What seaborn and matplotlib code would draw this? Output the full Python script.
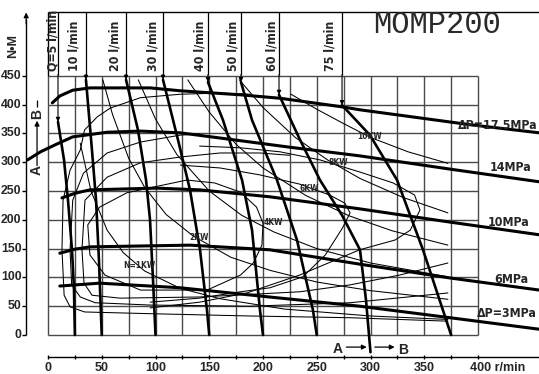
import numpy as np
import pandas as pd
import matplotlib
matplotlib.use("Agg")
import matplotlib.pyplot as plt
from matplotlib import font_manager as fm
import seaborn as sns

sns.set_theme(style="white")
plt.rcParams["font.family"] = ["Liberation Sans", "DejaVu Sans"]

# ---- pressure-drop curves: speed (r/min) -> torque (N·m)
p175_rpm = [4, 11, 23, 39, 55, 95, 123, 179, 216, 274, 290, 393, 457]
p175_nm = [403, 415, 425, 429, 429, 429, 424, 417, 411, 396, 391, 365, 351]
p14_rpm = [-19, -7, 6.5, 23, 55, 86, 123, 160, 225, 290, 374, 457]
p14_nm = [304, 318, 330, 344, 352, 354, 351, 342, 326, 311, 288, 266]
p10_rpm = [13, 25, 39, 101, 141, 206, 290, 374, 457]
p10_nm = [238, 246, 252, 255, 252, 240, 219, 196, 174]
p6_rpm = [11, 25, 39, 132, 206, 290, 374, 457]
p6_nm = [142, 149, 153, 156, 148, 123, 99, 78]
p3_rpm = [11, 48, 123, 206, 290, 374, 457]
p3_nm = [85, 90, 82, 66, 50, 30, 10]
pressure_labels = ["\u0394P=17.5MPa", "14MPa", "10MPa", "6MPa", "\u0394P=3MPa"]

# ---- constant-flow lines
flow_lmin = [5, 10, 20, 30, 40, 50, 60, 75]
q5_rpm = [9.3, 14.9, 18.6, 22.3, 24.2, 25]
q5_nm = [370, 304, 234, 148, 78, 0]
q10_rpm = [35.3, 40.9, 44.7, 47.4, 50]
q10_nm = [443, 321, 234, 130, 0]
q20_rpm = [72.6, 83.7, 91.2, 94.9, 97.7, 100]
q20_nm = [443, 356, 269, 200, 95, 0]
q30_rpm = [107, 120.9, 132.1, 141.4, 147.9, 150]
q30_nm = [443, 339, 252, 148, 43, 0]
q40_rpm = [148.8, 162.8, 180.5, 189.8, 197.2, 200]
q40_nm = [439, 373, 269, 182, 43, 0]
q50_rpm = [179.5, 189.8, 213, 231.6, 246.5, 250]
q50_nm = [439, 373, 269, 165, 43, 0]
q60_rpm = [214.9, 234.4, 253, 273.5, 290.2, 295.8, 300]
q60_nm = [417, 339, 269, 208, 148, 61, -30]
q75_rpm = [273.5, 286.5, 299.5, 324.7, 348.8, 367.4, 375]
q75_nm = [399, 373, 347, 269, 148, 43, 0]

# ---- output-power lines
kw_labels = ["N=1KW", "2KW", "4KW", "6KW", "8KW", "10KW"]
kw1_rpm = [30, 40, 55, 70, 90, 123, 160, 220, 300, 372]
kw1_nm = [333, 250, 182, 143, 111, 81, 63, 45, 33, 27]
kw2_rpm = [51, 60, 75, 90, 110, 135, 170, 207, 250, 300, 372]
kw2_nm = [443, 383, 307, 256, 209, 172, 135, 112, 92, 77, 62]
kw4_rpm = [84, 100, 120, 150, 180, 210, 250, 300, 372]
kw4_nm = [443, 375, 313, 250, 208, 179, 150, 125, 101]
kw6_rpm = [130, 150, 175, 200, 240, 280, 320, 372]
kw6_nm = [443, 387, 331, 290, 242, 207, 181, 156]
kw8_rpm = [178, 200, 230, 260, 290, 330, 372]
kw8_nm = [443, 395, 343, 304, 272, 239, 212]
kw10_rpm = [226, 250, 275, 300, 335, 372]
kw10_nm = [418, 392, 367, 343, 318, 298]

# ---- efficiency contours
c1_rpm = [372, 281, 188, 95, 34, 20.5, 15, 13, 14, 20.5, 30, 34, 46, 58, 86, 123, 160, 188]
c1_nm = [24, 30, 33, 37, 40, 49, 69, 148, 234, 286, 321, 356, 379, 394, 412, 418, 420, 418]
c2_rpm = [372, 281, 188, 95, 44, 30, 22, 20.5, 23, 33, 55, 86, 123, 141]
c2_nm = [73, 56, 50, 52, 56, 66, 87, 148, 234, 281, 316, 335, 347, 349]
c3_rpm = [372, 327, 281, 234, 141, 67, 41, 33.5, 31.6, 34.4, 55, 86, 123, 160, 197, 225]
c3_nm = [125, 104, 87, 75, 66, 64, 69, 90, 148, 234, 274, 299, 309, 316, 316, 312]
c4_rpm = [129, 73.5, 48, 37, 39, 53, 86, 148, 179, 191, 199, 200, 194, 179, 155, 129]
c4_nm = [269, 247, 222, 191, 139, 104, 78, 78, 104, 125, 156, 194, 222, 248, 264, 269]
c5_rpm = [95, 141, 179, 206.5, 237, 258, 274, 281, 276, 262, 234, 197, 160, 123]
c5_nm = [57, 64, 75, 82, 101, 139, 186, 212, 229, 243, 262, 278, 290, 295]
c6_rpm = [95, 141, 185, 234, 290, 323, 337, 346, 341, 321, 290, 253, 216, 179, 141]
c6_nm = [47, 57, 73, 104, 148, 165, 182, 217, 243, 264, 283, 304, 318, 325, 328]

speed_ticks = list(range(0, 401, 25))
speed_labels = [0, 50, 100, 150, 200, 250, 300, 350]
torque_ticks = list(range(0, 451, 50))


def long_table(curves):
    rows = []
    for name, (xs, ys) in curves.items():
        for i, (x, y) in enumerate(zip(xs, ys)):
            rows.append((name, i, x, y))
    return pd.DataFrame(rows, columns=["curve", "order", "rpm", "torque"])


def narrow_bold(size):
    """Bold condensed face if one is installed, else regular bold scaled to width."""
    for f in fm.fontManager.ttflist:
        name = f.name.lower()
        narrow = ("narrow" in name or "condensed" in name
                  or str(f.stretch) in ("condensed", "semi-condensed", "extra-condensed"))
        heavy = f.weight in ("bold", 700, "700")
        if narrow and heavy:
            return fm.FontProperties(fname=f.fname, size=size)
    return fm.FontProperties(family=["Liberation Sans", "DejaVu Sans"],
                             weight="bold", size=size * 0.86)


pressure = long_table({"17.5": (p175_rpm, p175_nm), "14": (p14_rpm, p14_nm),
                       "10": (p10_rpm, p10_nm), "6": (p6_rpm, p6_nm),
                       "3": (p3_rpm, p3_nm)})
flows = long_table({"5": (q5_rpm, q5_nm), "10": (q10_rpm, q10_nm),
                    "20": (q20_rpm, q20_nm), "30": (q30_rpm, q30_nm),
                    "40": (q40_rpm, q40_nm), "50": (q50_rpm, q50_nm),
                    "60": (q60_rpm, q60_nm), "75": (q75_rpm, q75_nm)})
thin = long_table({"kw1": (kw1_rpm, kw1_nm), "kw2": (kw2_rpm, kw2_nm),
                   "kw4": (kw4_rpm, kw4_nm), "kw6": (kw6_rpm, kw6_nm),
                   "kw8": (kw8_rpm, kw8_nm), "kw10": (kw10_rpm, kw10_nm),
                   "c1": (c1_rpm, c1_nm), "c2": (c2_rpm, c2_nm),
                   "c3": (c3_rpm, c3_nm), "c4": (c4_rpm, c4_nm),
                   "c5": (c5_rpm, c5_nm), "c6": (c6_rpm, c6_nm)})

fig = plt.figure(figsize=(5.39, 3.74), dpi=100)
ax = fig.add_axes([0, 0, 1, 1])

# chart grid
ax.vlines(speed_ticks, 0, 450, color="#4a4a4a", lw=1.0, zorder=1)
ax.hlines(torque_ticks, 0, 400, color="#4a4a4a", lw=1.0, zorder=1)

# curves
sns.lineplot(data=thin, x="rpm", y="torque", units="curve", estimator=None,
             sort=False, color="black", lw=0.75, ax=ax, legend=False, zorder=2)
sns.lineplot(data=pressure, x="rpm", y="torque", units="curve", estimator=None,
             sort=False, color="black", lw=2.2, ax=ax, legend=False, zorder=3)
sns.lineplot(data=flows, x="rpm", y="torque", units="curve", estimator=None,
             sort=False, color="black", lw=1.9, ax=ax, legend=False, zorder=3)
ax.set_xlim(-44.65, 456.74)
ax.set_ylim(-67.71, 581.6)
ax.axis("off")

# flow header: frame, column dividers with arrows, rotated labels
header_top = 561
ax.hlines(header_top, 0, 456.74, color="black", lw=1.0)
ax.vlines(0, 450, header_top, color="black", lw=1.0)
flow_tops = [(r[0], n[0]) for r, n in [(q5_rpm, q5_nm), (q10_rpm, q10_nm),
                                       (q20_rpm, q20_nm), (q30_rpm, q30_nm),
                                       (q40_rpm, q40_nm), (q50_rpm, q50_nm),
                                       (q60_rpm, q60_nm), (q75_rpm, q75_nm)]]
for x0, y0 in flow_tops:
    ax.vlines(x0, 452, header_top, color="black", lw=0.9)
    ax.annotate("", xy=(x0, y0), xytext=(x0, 452),
                arrowprops=dict(arrowstyle="-|>", lw=0.8, color="black",
                                mutation_scale=6, shrinkA=0, shrinkB=0))
flow_label_x = [4.2, 24.2, 62.3, 97.7, 141.4, 172.1, 208.4, 262.3]
label_font = narrow_bold(8.9)
for q, xl in zip(flow_lmin, flow_label_x):
    txt = f"Q={q} l/min" if q == flow_lmin[0] else f"{q} l/min"
    ax.text(xl, 458, txt, rotation=90, ha="center", va="bottom",
            fontproperties=label_font)

ax.text(302.3, 524, "MOMP200", fontsize=22, family=["Liberation Mono", "DejaVu Sans Mono"],
        color="#2a2a2a", ha="left", va="baseline")

# pressure labels at the right end of each curve
pl_pos = [(381.0, 357), (411.2, 284), (409.3, 189), (414.9, 90), (399, 31)]
for lab, (xl, yl) in zip(pressure_labels, pl_pos):
    ax.text(xl, yl, lab, ha="left", va="baseline", fontproperties=label_font)

# power labels
kw_font = narrow_bold(6.0)
kw_pos = [(84.7, 120), (140.5, 170), (210, 196), (243, 255), (270, 300), (299.5, 344)]
for lab, (xl, yl) in zip(kw_labels, kw_pos):
    ax.text(xl, yl, lab, ha="center", va="center", fontproperties=kw_font)

# torque axis
ax.vlines(-20.3, 0, 548, color="black", lw=1.0)
ax.annotate("", xy=(-20.3, 560), xytext=(-20.3, 540),
            arrowprops=dict(arrowstyle="-|>", lw=0.9, color="black",
                            mutation_scale=7, shrinkA=0, shrinkB=0))
ax.hlines(torque_ticks, -24.4, -20.3, color="black", lw=1.0)
for t in torque_ticks:
    ax.text(-24.6, t, str(t), ha="right", va="center", fontsize=8.8, weight="bold")
ax.text(-32.5, 502, "N\u2022M", rotation=90, ha="center", va="center",
        fontsize=9, weight="bold")

# speed axis
ax.hlines(-38.2, 0, 456.74, color="black", lw=1.0)
ax.vlines(speed_ticks, -42.5, -33.9, color="black", lw=1.0)
for s in speed_labels:
    ax.text(s, -47, str(s), ha="center", va="top", fontsize=9, weight="bold")
ax.text(392.5, -47, "400 r/min", ha="left", va="top", fontsize=9, weight="bold")

# section markers A-B
ax.text(269.8, -24, "A", ha="center", va="center", fontsize=10, weight="bold")
ax.annotate("", xy=(296.5, -21), xytext=(277.5, -21),
            arrowprops=dict(arrowstyle="-|>", lw=0.9, color="black",
                            mutation_scale=7, shrinkA=0, shrinkB=0))
ax.annotate("", xy=(322.5, -21), xytext=(304, -21),
            arrowprops=dict(arrowstyle="-|>", lw=0.9, color="black",
                            mutation_scale=7, shrinkA=0, shrinkB=0))
ax.text(330.5, -26, "B", ha="center", va="center", fontsize=10, weight="bold")

ax.text(-10.2, 286, "A", rotation=90, ha="center", va="center", fontsize=10, weight="bold")
ax.annotate("", xy=(-10.2, 372), xytext=(-10.2, 294),
            arrowprops=dict(arrowstyle="-|>", lw=0.9, color="black",
                            mutation_scale=7, shrinkA=0, shrinkB=0))
ax.text(-10.2, 383, "B", rotation=90, ha="center", va="center", fontsize=10, weight="bold")
ax.vlines(-10.2, 395, 408, color="black", lw=0.9)

fig.savefig("out.png", dpi=100)
